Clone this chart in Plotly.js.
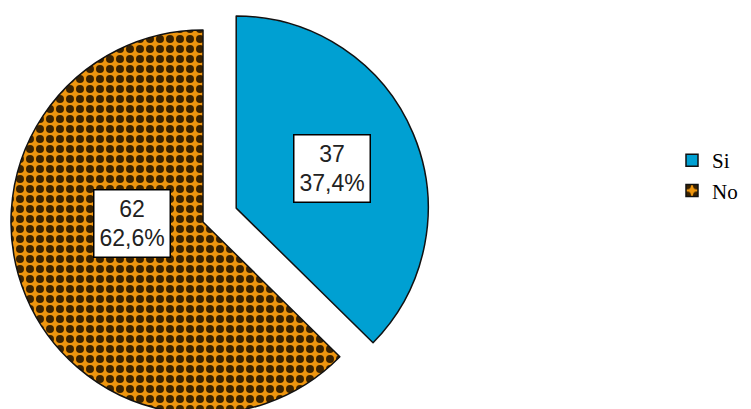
<!DOCTYPE html>
<html>
<head>
<meta charset="utf-8">
<script src="https://cdn.plot.ly/plotly-3.0.1.min.js"></script>
<style>
  html, body { margin: 0; padding: 0; overflow: hidden; background: #fff; width: 751px; height: 409px; }
  #chart { position: absolute; left: -25px; top: -6px; width: 776px; height: 456px; }
</style>
</head>
<body>
<div id="chart"></div>
<script>
// ---- data ----
const categories = ['Si', 'No'];
const counts = [37, 62];
const sliceColors = ['#00a0d2', '#ee950e'];
const pullOut = [0.1875, 0];

// ---- layout constants ----
const W = 776, H = 456;
const domX = [0, 456 / 776], domY = [0, 1];

const total = counts.reduce((a, b) => a + b, 0);
const pctText = counts.map(v => (v / total * 100).toFixed(1).replace('.', ',') + '%');

// pie geometry the way Plotly computes it (for placing the boxed labels)
const maxPull = Math.max(...pullOut);
const boxW = W * (domX[1] - domX[0]), boxH = H * (domY[1] - domY[0]);
const r = Math.min(boxW, boxH) / 2 / (1 + maxPull);
const cx = W * (domX[0] + domX[1]) / 2;
const cy = H * (1 - (domY[0] + domY[1]) / 2);
const labelRadius = [0.54, 0.37];
const labelTurn = [0, 0.37];

let acc = 0;
const annotations = counts.map((v, i) => {
  const a0 = acc / total * 2 * Math.PI;
  acc += v;
  const a1 = acc / total * 2 * Math.PI;
  const mid = (a0 + a1) / 2;
  const ox = cx + Math.sin(mid) * r * pullOut[i];
  const oy = cy - Math.cos(mid) * r * pullOut[i];
  const la = mid + labelTurn[i];
  const px = ox + Math.sin(la) * r * labelRadius[i];
  const py = oy - Math.cos(la) * r * labelRadius[i];
  return {
    xref: 'paper', yref: 'paper',
    x: px / W, y: 1 - py / H,
    xanchor: 'center', yanchor: 'middle',
    text: counts[i] + '<br>' + pctText[i],
    showarrow: false,
    font: { family: 'Liberation Sans, Arial, sans-serif', size: 23, color: '#222' },
    bgcolor: '#ffffff',
    bordercolor: '#000000',
    borderwidth: 1.5,
    borderpad: 5
  };
});

const trace = {
  type: 'pie',
  labels: categories,
  values: counts,
  sort: false,
  direction: 'clockwise',
  rotation: 0,
  pull: pullOut,
  textinfo: 'none',
  hoverinfo: 'label+value+percent',
  domain: { x: domX, y: domY },
  marker: {
    colors: sliceColors,
    line: { color: '#111111', width: 1.5 },
    pattern: {
      shape: ['', '.'],
      bgcolor: sliceColors,
      fgcolor: ['#000000', '#3a2200'],
      fillmode: 'replace',
      size: 10,
      solidity: 0.5
    }
  }
};

const layout = {
  width: W, height: H,
  margin: { l: 0, r: 0, t: 0, b: 0 },
  paper_bgcolor: '#ffffff',
  showlegend: true,
  legend: {
    x: (737 - 40) / W, xanchor: 'left',
    y: 1 - 146 / H, yanchor: 'top',
    font: { family: 'Liberation Serif, Times New Roman, serif', size: 21, color: '#000' },
    traceorder: 'normal',
    bgcolor: 'rgba(0,0,0,0)'
  },
  annotations: annotations
};

Plotly.newPlot('chart', [trace], layout, { displayModeBar: false, staticPlot: true });
</script>
</body>
</html>
